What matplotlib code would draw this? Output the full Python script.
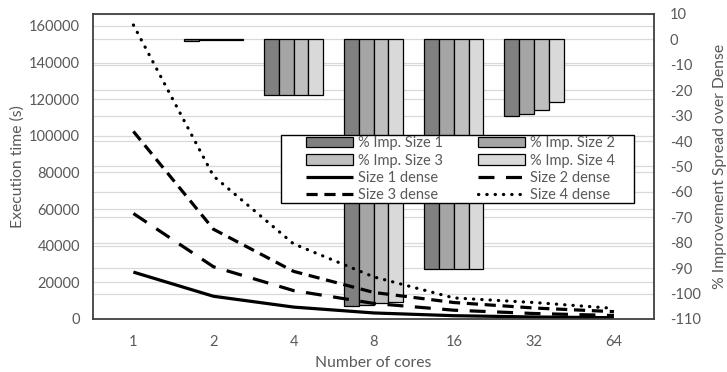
import matplotlib
matplotlib.use("Agg")
import matplotlib.pyplot as plt
import matplotlib.transforms as mtransforms
from matplotlib.patches import Rectangle
from matplotlib.lines import Line2D
import numpy as np

plt.rcParams['font.family'] = ['Lato', 'DejaVu Sans']
plt.rcParams['font.size'] = 10
plt.rcParams['axes.unicode_minus'] = False

# data
cores = ["1", "2", "4", "8", "16", "32", "64"]

# execution time (s), left axis
size1_dense = [25600, 12400, 6500, 3300, 1800, 1100, 700]
size2_dense = [57600, 28500, 15500, 8500, 4800, 3000, 1900]
size3_dense = [102400, 49000, 26000, 14500, 9000, 6000, 4000]
size4_dense = [160500, 78000, 41000, 23000, 11500, 9000, 5800]

# % improvement spread over dense, right axis (nan = no bar)
imp_size1 = [np.nan, -0.5, -21.7, -104.7, -90.5, -30.2, np.nan]
imp_size2 = [np.nan, -0.3, -21.7, -104.6, -90.5, -29.4, np.nan]
imp_size3 = [np.nan, -0.3, -21.7, -103.7, -90.3, -27.6, np.nan]
imp_size4 = [np.nan, -0.3, -21.7, -103.3, -90.3, -24.8, np.nan]

txt = '#595959'
grid_c = '#d9d9d9'

fig = plt.figure(figsize=(7.27, 3.72), dpi=100)
ax2 = fig.add_axes([0.1284, 0.1425, 0.7712, 0.8199])   # bars (right axis)
ax = ax2.twinx()                                        # lines (left axis)
ax.yaxis.tick_left()
ax.yaxis.set_label_position('left')
ax2.yaxis.tick_right()
ax2.yaxis.set_label_position('right')
ax.set_zorder(ax2.get_zorder() + 1)
ax.patch.set_visible(False)

x = np.arange(len(cores))
ylim_left = (0, 166500)
ylim_right = (-110, 10)

# bars
bw = 0.185
bar_cols = ['#808080', '#a5a5a5', '#bfbfbf', '#d9d9d9']
bar_data = [imp_size1, imp_size2, imp_size3, imp_size4]
bar_names = ['% Imp. Size 1', '% Imp. Size 2', '% Imp. Size 3', '% Imp. Size 4']
bars = []
for j, (vals, c, nm) in enumerate(zip(bar_data, bar_cols, bar_names)):
    b = ax2.bar(x + (j - 1.5) * bw, vals, width=bw, color=c, edgecolor='black',
                linewidth=0.9, label=nm, zorder=3)
    bars.append(b)

# gridlines for both axes, drawn behind the bars
for v in np.arange(-110, 11, 10):
    ax2.axhline(v, color=grid_c, lw=0.9, zorder=1)
trans = mtransforms.blended_transform_factory(ax2.transAxes, ax.transData)
for v in np.arange(0, 160001, 20000):
    ax2.add_line(Line2D([0, 1], [v, v], transform=trans, color=grid_c, lw=0.9, zorder=1))

# lines
lw = 2.3
l1, = ax.plot(x, size1_dense, color='black', lw=lw, label='Size 1 dense',
              solid_capstyle='butt')
l2, = ax.plot(x, size2_dense, color='black', lw=lw, label='Size 2 dense',
              dashes=(5, 3.6), dash_capstyle='butt')
l3, = ax.plot(x, size3_dense, color='black', lw=lw, label='Size 3 dense',
              dashes=(3.5, 2.1), dash_capstyle='butt')
l4, = ax.plot(x, size4_dense, color='black', lw=lw, label='Size 4 dense',
              dashes=(0.1, 2.5), dash_capstyle='round')

ax.set_xlim(-0.5, len(cores) - 0.5)
ax.set_ylim(*ylim_left)
ax2.set_ylim(*ylim_right)
ax.set_yticks(np.arange(0, 160001, 20000))
ax2.set_yticks(np.arange(-110, 11, 10))
ax2.set_xticks(x)
ax2.set_xticklabels(cores)

ax.tick_params(axis='y', length=0, pad=9.5, colors=txt, labelsize=10.5)
ax2.tick_params(axis='y', length=0, pad=11.5, colors=txt, labelsize=10.5)
ax2.tick_params(axis='x', length=0, pad=11.5, colors=txt, labelsize=10.5)
ax.tick_params(axis='x', length=0, labelbottom=False)

for a in (ax, ax2):
    for s in a.spines.values():
        s.set_visible(False)
for s in ax.spines.values():
    s.set_visible(True)
    s.set_color('#404040')
    s.set_linewidth(1.3)

ax.set_ylabel('Execution time (s)', color=txt, fontsize=11.3, va='center')
ax.yaxis.set_label_coords(-0.136, 0.5)
ax2.set_ylabel('% Improvement Spread over Dense', color=txt, fontsize=11.3,
               rotation=90, va='center')
ax2.yaxis.set_label_coords(1.118, 0.5)
ax2.set_xlabel('Number of cores', color=txt, fontsize=11.3, va='center')
ax2.xaxis.set_label_coords(0.5, -0.144)

# legend frame + legend
ax.add_patch(Rectangle((0.3348, 0.3803), 0.6295, 0.223, transform=ax.transAxes,
                       facecolor='white', edgecolor='black', lw=1.0, zorder=6))
handles = [bars[0], bars[2], l1, l3, bars[1], bars[3], l2, l4]
labels = [h.get_label() for h in handles]
leg = ax.legend(handles, labels, ncol=2, loc='center', mode='expand',
                bbox_to_anchor=(0.3793, 0.491, 0.551, 0), frameon=False,
                borderpad=0, borderaxespad=0, handlelength=3.2, handletextpad=0.35,
                labelspacing=0.22, fontsize=10.5)
leg.set_zorder(7)
for t in leg.get_texts():
    t.set_color(txt)

fig.savefig('out.png', dpi=100)
